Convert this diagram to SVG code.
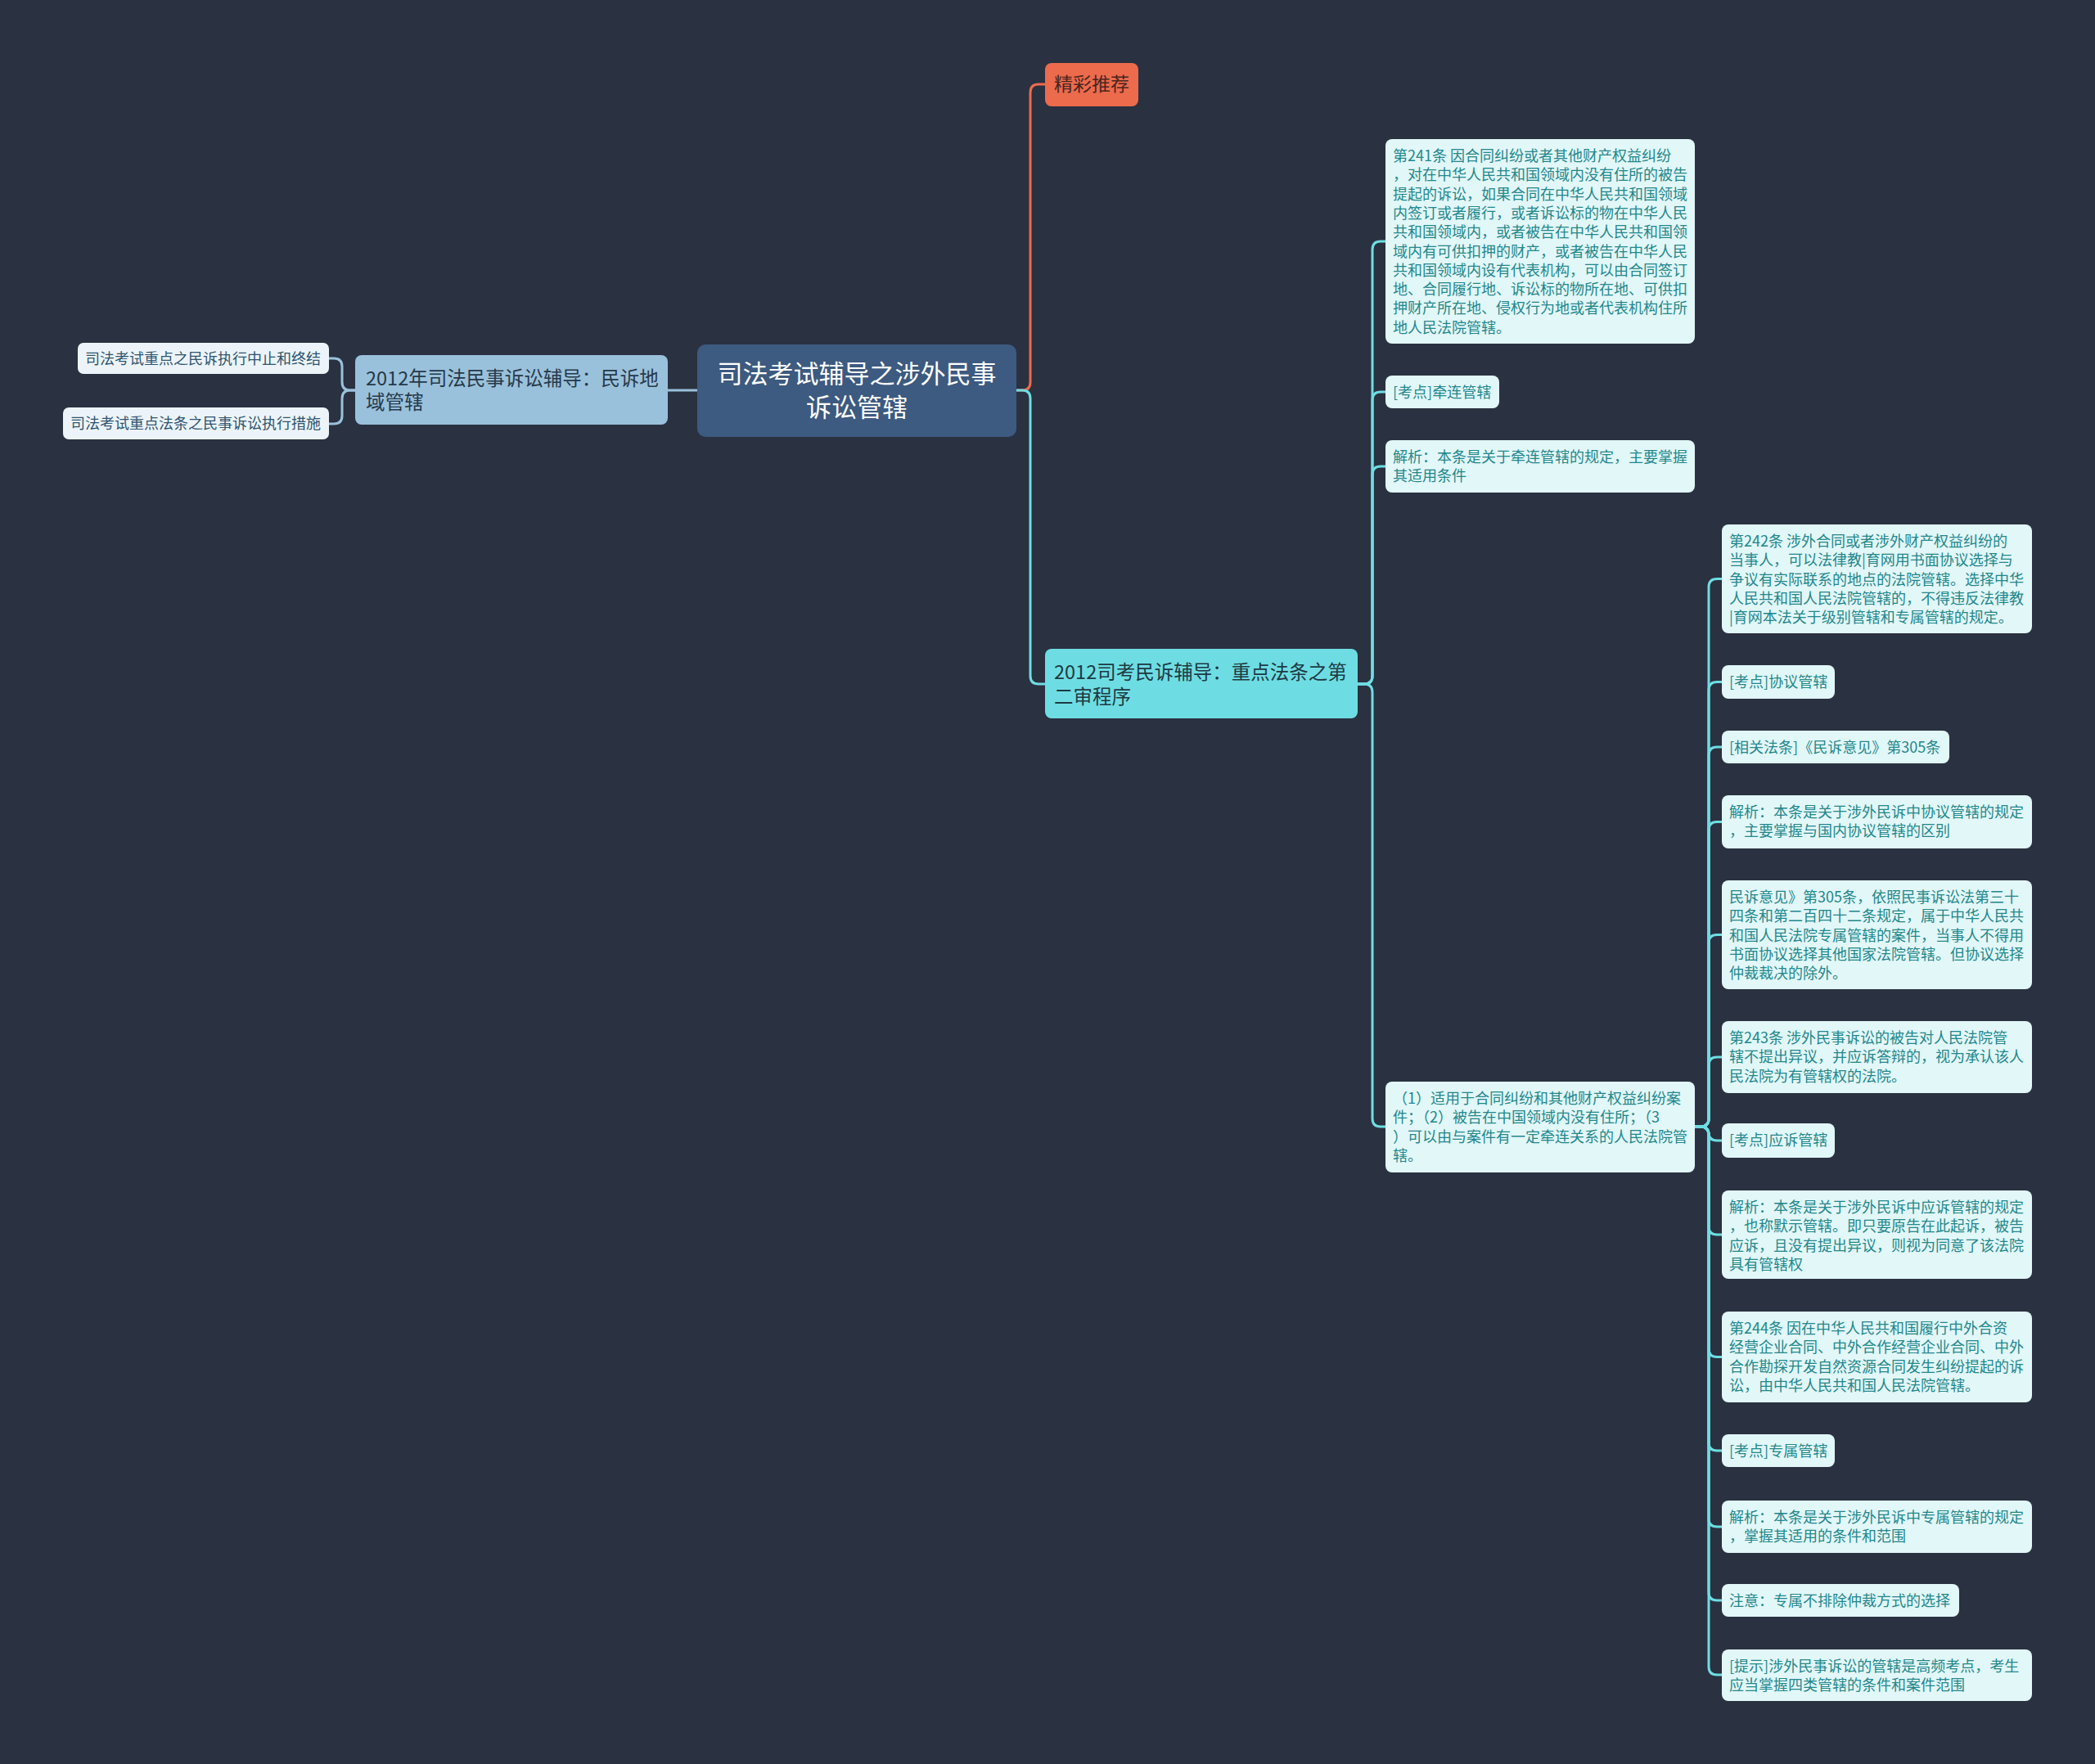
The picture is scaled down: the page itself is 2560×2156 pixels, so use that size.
<svg xmlns="http://www.w3.org/2000/svg" width="2560" height="2156" viewBox="0 0 2560 2156">
<style>
text{font-family:"Noto Sans CJK SC","Noto Sans",sans-serif;}
.root{fill:#3d5a80;}
.roott{fill:#ffffff;font-size:31px;}
.lb{fill:#9ac1db;}
.lbt{fill:#26394a;font-size:23.5px;}
.ll{fill:#edf4f9;}
.llt{fill:#2e5470;font-size:18px;}
.rec{fill:#ec6b4c;}
.rect{fill:#4a2420;font-size:23px;}
.cb{fill:#6edde3;}
.cbt{fill:#1d3a42;font-size:23.5px;}
.rl{fill:#e2f7f8;}
.rlt{fill:#22878c;font-size:18px;}
.cc{fill:none;stroke:#6edde3;stroke-width:3;}
.co{fill:none;stroke:#ec6b4c;stroke-width:3;}
.cl{fill:none;stroke:#9ac1db;stroke-width:3;}
</style>
<rect x="0" y="0" width="2560" height="2156" fill="#2a3140"/>
<g id="connectors">
<path class="co" d="M1242,477 H1249 Q1259,477 1259,467 V113 Q1259,103 1269,103 H1277"/>
<path class="cc" d="M1242,477 H1249 Q1259,477 1259,487 V826 Q1259,836 1269,836 H1277"/>
<path class="cl" d="M852,477 H816"/>
<path class="cl" d="M434,477 H428 Q418,477 418,467 V448 Q418,438 408,438 H402"/>
<path class="cl" d="M434,477 H428 Q418,477 418,487 V508 Q418,518 408,518 H402"/>
<path class="cc" d="M1659,836 H1667 Q1677,836 1677,826 V305 Q1677,295 1687,295 H1693"/>
<path class="cc" d="M1659,836 H1667 Q1677,836 1677,826 V489 Q1677,479 1687,479 H1693"/>
<path class="cc" d="M1659,836 H1667 Q1677,836 1677,826 V580 Q1677,570 1687,570 H1693"/>
<path class="cc" d="M1659,836 H1667 Q1677,836 1677,846 V1367 Q1677,1377 1687,1377 H1693"/>
<path class="cc" d="M2071,1377 H2078 Q2088,1377 2088,1367 V717.5 Q2088,707.5 2098,707.5 H2104"/>
<path class="cc" d="M2071,1377 H2078 Q2088,1377 2088,1367 V843.5 Q2088,833.5 2098,833.5 H2104"/>
<path class="cc" d="M2071,1377 H2078 Q2088,1377 2088,1367 V923 Q2088,913 2098,913 H2104"/>
<path class="cc" d="M2071,1377 H2078 Q2088,1377 2088,1367 V1014.5 Q2088,1004.5 2098,1004.5 H2104"/>
<path class="cc" d="M2071,1377 H2078 Q2088,1377 2088,1367 V1152.5 Q2088,1142.5 2098,1142.5 H2104"/>
<path class="cc" d="M2071,1377 H2078 Q2088,1377 2088,1367 V1302 Q2088,1292 2098,1292 H2104"/>
<path class="cc" d="M2071,1377 H2078 Q2088,1377 2088,1387 V1384 Q2088,1394 2098,1394 H2104"/>
<path class="cc" d="M2071,1377 H2078 Q2088,1377 2088,1387 V1499 Q2088,1509 2098,1509 H2104"/>
<path class="cc" d="M2071,1377 H2078 Q2088,1377 2088,1387 V1648.5 Q2088,1658.5 2098,1658.5 H2104"/>
<path class="cc" d="M2071,1377 H2078 Q2088,1377 2088,1387 V1763 Q2088,1773 2098,1773 H2104"/>
<path class="cc" d="M2071,1377 H2078 Q2088,1377 2088,1387 V1856 Q2088,1866 2098,1866 H2104"/>
<path class="cc" d="M2071,1377 H2078 Q2088,1377 2088,1387 V1946 Q2088,1956 2098,1956 H2104"/>
<path class="cc" d="M2071,1377 H2078 Q2088,1377 2088,1387 V2037 Q2088,2047 2098,2047 H2104"/>
</g>
<g id="root">
<rect class="root" x="852" y="421" width="390" height="113" rx="10"/>
<text class="roott" text-anchor="middle"><tspan x="1047" y="468">司法考试辅导之涉外民事</tspan><tspan x="1047" y="509">诉讼管辖</tspan></text>
</g>
<g id="left-branch">
<rect class="lb" x="434" y="434" width="382" height="85" rx="8"/>
<text class="lbt"><tspan x="447" y="470.5">2012年司法民事诉讼辅导：民诉地</tspan><tspan x="447" y="499.5">域管辖</tspan></text>
</g>
<g id="left-leaf-1">
<rect class="ll" x="95" y="419" width="307" height="38" rx="7"/>
<text class="llt" x="104" y="444.5">司法考试重点之民诉执行中止和终结</text>
</g>
<g id="left-leaf-2">
<rect class="ll" x="77" y="498" width="325" height="39" rx="7"/>
<text class="llt" x="86" y="524">司法考试重点法条之民事诉讼执行措施</text>
</g>
<g id="recommend">
<rect class="rec" x="1277" y="77" width="114" height="53" rx="8"/>
<text class="rect" x="1288" y="111">精彩推荐</text>
</g>
<g id="branch-2">
<rect class="cb" x="1277" y="793" width="382" height="85" rx="8"/>
<text class="cbt"><tspan x="1288" y="829.5">2012司考民诉辅导：重点法条之第</tspan><tspan x="1288" y="859.5">二审程序</tspan></text>
</g>
<g id="a241">
<rect class="rl" x="1693" y="170" width="378" height="250" rx="8"/>
<text class="rlt"><tspan x="1702" y="197">第241条 因合同纠纷或者其他财产权益纠纷</tspan><tspan x="1702" y="220.3">，对在中华人民共和国领域内没有住所的被告</tspan><tspan x="1702" y="243.6">提起的诉讼，如果合同在中华人民共和国领域</tspan><tspan x="1702" y="266.9">内签订或者履行，或者诉讼标的物在中华人民</tspan><tspan x="1702" y="290.2">共和国领域内，或者被告在中华人民共和国领</tspan><tspan x="1702" y="313.5">域内有可供扣押的财产，或者被告在中华人民</tspan><tspan x="1702" y="336.8">共和国领域内设有代表机构，可以由合同签订</tspan><tspan x="1702" y="360.1">地、合同履行地、诉讼标的物所在地、可供扣</tspan><tspan x="1702" y="383.4">押财产所在地、侵权行为地或者代表机构住所</tspan><tspan x="1702" y="406.7">地人民法院管辖。</tspan></text>
</g>
<g id="kd-qianlian">
<rect class="rl" x="1693" y="459" width="139" height="40" rx="8"/>
<text class="rlt" x="1702" y="486">[考点]牵连管辖</text>
</g>
<g id="jx-qianlian">
<rect class="rl" x="1693" y="538" width="378" height="64" rx="8"/>
<text class="rlt"><tspan x="1702" y="565">解析：本条是关于牵连管辖的规定，主要掌握</tspan><tspan x="1702" y="588.3">其适用条件</tspan></text>
</g>
<g id="conditions">
<rect class="rl" x="1693" y="1322" width="378" height="111" rx="8"/>
<text class="rlt"><tspan x="1702" y="1349">（1）适用于合同纠纷和其他财产权益纠纷案</tspan><tspan x="1702" y="1372.3">件；（2）被告在中国领域内没有住所；（3</tspan><tspan x="1702" y="1395.6">）可以由与案件有一定牵连关系的人民法院管</tspan><tspan x="1702" y="1418.9">辖。</tspan></text>
</g>
<g id="a242">
<rect class="rl" x="2104" y="641" width="379" height="133" rx="8"/>
<text class="rlt"><tspan x="2113" y="668">第242条 涉外合同或者涉外财产权益纠纷的</tspan><tspan x="2113" y="691.3">当事人，可以法律教|育网用书面协议选择与</tspan><tspan x="2113" y="714.6">争议有实际联系的地点的法院管辖。选择中华</tspan><tspan x="2113" y="737.9">人民共和国人民法院管辖的，不得违反法律教</tspan><tspan x="2113" y="761.2">|育网本法关于级别管辖和专属管辖的规定。</tspan></text>
</g>
<g id="kd-xieyi">
<rect class="rl" x="2104" y="813" width="138" height="41" rx="8"/>
<text class="rlt" x="2113" y="840">[考点]协议管辖</text>
</g>
<g id="xgfl">
<rect class="rl" x="2104" y="893" width="278" height="40" rx="8"/>
<text class="rlt" x="2113" y="920">[相关法条]《民诉意见》第305条</text>
</g>
<g id="jx-xieyi">
<rect class="rl" x="2104" y="972" width="379" height="65" rx="8"/>
<text class="rlt"><tspan x="2113" y="999">解析：本条是关于涉外民诉中协议管辖的规定</tspan><tspan x="2113" y="1022.3">，主要掌握与国内协议管辖的区别</tspan></text>
</g>
<g id="msyj">
<rect class="rl" x="2104" y="1076" width="379" height="133" rx="8"/>
<text class="rlt"><tspan x="2113" y="1103">民诉意见》第305条，依照民事诉讼法第三十</tspan><tspan x="2113" y="1126.3">四条和第二百四十二条规定，属于中华人民共</tspan><tspan x="2113" y="1149.6">和国人民法院专属管辖的案件，当事人不得用</tspan><tspan x="2113" y="1172.9">书面协议选择其他国家法院管辖。但协议选择</tspan><tspan x="2113" y="1196.2">仲裁裁决的除外。</tspan></text>
</g>
<g id="a243">
<rect class="rl" x="2104" y="1248" width="379" height="88" rx="8"/>
<text class="rlt"><tspan x="2113" y="1275">第243条 涉外民事诉讼的被告对人民法院管</tspan><tspan x="2113" y="1298.3">辖不提出异议，并应诉答辩的，视为承认该人</tspan><tspan x="2113" y="1321.6">民法院为有管辖权的法院。</tspan></text>
</g>
<g id="kd-yingsu">
<rect class="rl" x="2104" y="1373" width="138" height="42" rx="8"/>
<text class="rlt" x="2113" y="1400">[考点]应诉管辖</text>
</g>
<g id="jx-yingsu">
<rect class="rl" x="2104" y="1455" width="379" height="108" rx="8"/>
<text class="rlt"><tspan x="2113" y="1482">解析：本条是关于涉外民诉中应诉管辖的规定</tspan><tspan x="2113" y="1505.3">，也称默示管辖。即只要原告在此起诉，被告</tspan><tspan x="2113" y="1528.6">应诉，且没有提出异议，则视为同意了该法院</tspan><tspan x="2113" y="1551.9">具有管辖权</tspan></text>
</g>
<g id="a244">
<rect class="rl" x="2104" y="1603" width="379" height="111" rx="8"/>
<text class="rlt"><tspan x="2113" y="1630">第244条 因在中华人民共和国履行中外合资</tspan><tspan x="2113" y="1653.3">经营企业合同、中外合作经营企业合同、中外</tspan><tspan x="2113" y="1676.6">合作勘探开发自然资源合同发生纠纷提起的诉</tspan><tspan x="2113" y="1699.9">讼，由中华人民共和国人民法院管辖。</tspan></text>
</g>
<g id="kd-zhuanshu">
<rect class="rl" x="2104" y="1753" width="138" height="40" rx="8"/>
<text class="rlt" x="2113" y="1780">[考点]专属管辖</text>
</g>
<g id="jx-zhuanshu">
<rect class="rl" x="2104" y="1834" width="379" height="64" rx="8"/>
<text class="rlt"><tspan x="2113" y="1861">解析：本条是关于涉外民诉中专属管辖的规定</tspan><tspan x="2113" y="1884.3">，掌握其适用的条件和范围</tspan></text>
</g>
<g id="zhuyi">
<rect class="rl" x="2104" y="1936" width="290" height="40" rx="8"/>
<text class="rlt" x="2113" y="1963">注意：专属不排除仲裁方式的选择</text>
</g>
<g id="tishi">
<rect class="rl" x="2104" y="2016" width="379" height="63" rx="8"/>
<text class="rlt"><tspan x="2113" y="2043">[提示]涉外民事诉讼的管辖是高频考点，考生</tspan><tspan x="2113" y="2066.3">应当掌握四类管辖的条件和案件范围</tspan></text>
</g>
</svg>
